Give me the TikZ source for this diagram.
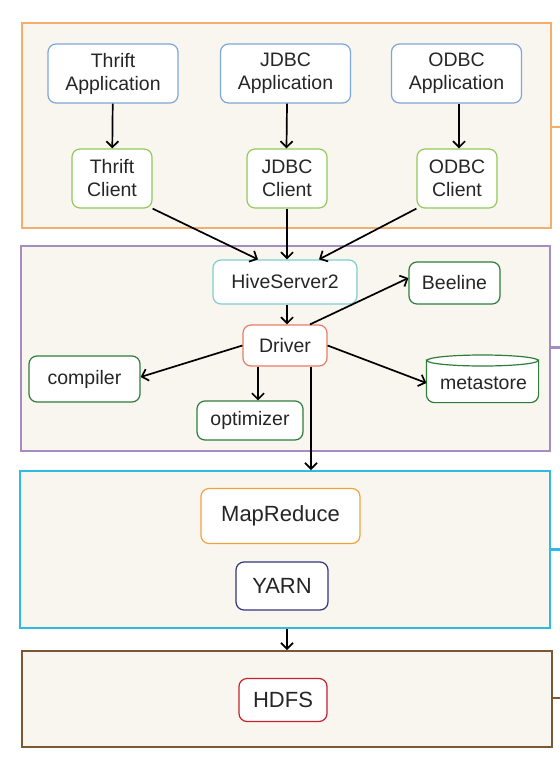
\documentclass[tikz,border=0pt]{standalone}
\usepackage{fontspec}
\setmainfont{Liberation Sans}
\usetikzlibrary{arrows.meta, positioning, calc}

\definecolor{panelfill}{HTML}{F9F6F0}
\definecolor{txtgray}{HTML}{262626}
\definecolor{tierorange}{HTML}{F2AE6A}
\definecolor{tierpurple}{HTML}{A68DBF}
\definecolor{tiercyan}{HTML}{2DBBE0}
\definecolor{tierbrown}{HTML}{7A5836}
\definecolor{appblue}{HTML}{7EA6D9}
\definecolor{clientgreen}{HTML}{92C95A}
\definecolor{hsteal}{HTML}{7FCDCF}
\definecolor{drvred}{HTML}{EB7B66}
\definecolor{compgreen}{HTML}{2F7D3A}
\definecolor{mrorange}{HTML}{F2A23A}
\definecolor{yarnblue}{HTML}{33337F}
\definecolor{hdfsred}{HTML}{C4222E}

\begin{document}
\begin{tikzpicture}[x=1pt, y=-1pt,
    tier/.style={draw, line width=2pt, fill=panelfill, inner sep=0pt},
    box/.style={draw, line width=1.2pt, fill=white, rounded corners=8pt,
        inner sep=0pt, align=center, text=txtgray,
        font=\fontsize{19.5}{23}\selectfont},
    bigbox/.style={box, font=\fontsize{22}{26}\selectfont},
    every edge/.style={draw, line width=1.7pt},
    >={Straight Barb[length=6pt,width=12pt]}]
    \useasboundingbox (0,0) rectangle (560,761);

    % tiers
    \draw (286.5,125.5) node[tier, draw=tierorange, minimum width=529pt, minimum height=205pt] (tier1) {};
    \draw (285.5,348.5) node[tier, draw=tierpurple, minimum width=529pt, minimum height=205pt] (tier2) {};
    \draw (285,549.5) node[tier, draw=tiercyan, minimum width=530pt, minimum height=157pt] (tier3) {};
    \draw (287,699) node[tier, draw=tierbrown, minimum width=530pt, minimum height=96pt] (tier4) {};
    \coordinate (out1) at (560,127);
    \coordinate (out2) at (560,347.5);
    \coordinate (out3) at (560,549.5);
    \coordinate (out4) at (560,698);
    \draw[line width=2.4pt, tierorange] (tier1.east |- out1) -- (out1);
    \draw[line width=2.4pt, tierpurple] (tier2.east |- out2) -- (out2);
    \draw[line width=2.4pt, tiercyan] (tier3.east |- out3) -- (out3);
    \draw[line width=2.4pt, tierbrown] (tier4.east |- out4) -- (out4);

    % clients
    \draw (113,73.5) node[box, draw=appblue, minimum width=130pt, minimum height=59pt] (thapp) {Thrift\\Application};
    \draw (285.5,73.5) node[box, draw=appblue, minimum width=130pt, minimum height=59pt] (jdapp) {JDBC\\Application};
    \draw (456.5,73.5) node[box, draw=appblue, minimum width=130pt, minimum height=59pt] (odapp) {ODBC\\Application};
    \draw (112,178.5) node[box, draw=clientgreen, minimum width=80pt, minimum height=59pt] (thcl) {Thrift\\Client};
    \draw (287,178.5) node[box, draw=clientgreen, minimum width=80pt, minimum height=59pt] (jdcl) {JDBC\\Client};
    \draw (457,178.5) node[box, draw=clientgreen, minimum width=80pt, minimum height=59pt] (odcl) {ODBC\\Client};

    % hive
    \draw (285,282) node[box, draw=hsteal, minimum width=144pt, minimum height=44pt] (hs2) {HiveServer2};
    \draw (454.5,283) node[box, draw=compgreen, minimum width=91pt, minimum height=42pt] (beeline) {Beeline};
    \draw (285,345.5) node[box, draw=drvred, minimum width=84pt, minimum height=41pt] (driver) {Driver};
    \draw (84.5,379) node[box, draw=compgreen, minimum width=111pt, minimum height=46pt] (compiler) {compiler};
    \draw (250,420.5) node[box, draw=compgreen, minimum width=106pt, minimum height=39pt] (optimizer) {optimizer};
    \draw (482.5,381) node[box, draw=none, fill=none, minimum width=111pt, minimum height=42pt] (metastore) {};
    \fill[white, rounded corners=8pt] (metastore.north west) -- (metastore.south west) -- (metastore.south east) -- (metastore.north east);
    \draw[compgreen, line width=1.2pt, rounded corners=8pt] (metastore.north west) -- (metastore.south west) -- (metastore.south east) -- (metastore.north east);
    \draw[compgreen, line width=1.2pt, fill=white] (482.5,360.5) ellipse (55.5pt and 5.5pt);
    \node[text=txtgray, font=\fontsize{19.5}{23}\selectfont] at (483.5,383) {metastore};

    % hadoop
    \draw (280.5,516) node[bigbox, draw=mrorange, minimum width=159pt, minimum height=55pt] (mapred) {MapReduce};
    \draw (282,586) node[bigbox, draw=yarnblue, minimum width=92pt, minimum height=48pt] (yarn) {YARN};
    \draw (283,700) node[bigbox, draw=hdfsred, minimum width=88pt, minimum height=43pt] (hdfs) {HDFS};

    \path[->]
    (thapp) edge (thcl)
    ([xshift=1.5pt]jdapp.south) edge ([xshift=-0.5pt]jdcl.north)
    ([xshift=2.5pt]odapp.south) edge ([xshift=2pt]odcl.north)
    (thcl.south east) edge ([xshift=-27pt]hs2.north)
    (jdcl) edge ([xshift=2pt]hs2.north)
    (odcl.south west) edge ([xshift=34pt]hs2.north)
    ([xshift=2pt]hs2.south) edge ([xshift=2pt]driver.north)
    ([xshift=25pt]driver.north) edge ([yshift=5pt]beeline.west)
    (driver.west) edge ([yshift=2pt]compiler.east)
    ([xshift=-27pt]driver.south) edge ([xshift=8pt]optimizer.north)
    (driver.east) edge ([yshift=-2pt]metastore.west)
    ([xshift=26pt]driver.south) edge ([xshift=26pt]driver.south |- tier3.north)
    ([xshift=2pt]tier3.south) edge ([xshift=0pt]tier4.north);
\end{tikzpicture}
\end{document}
